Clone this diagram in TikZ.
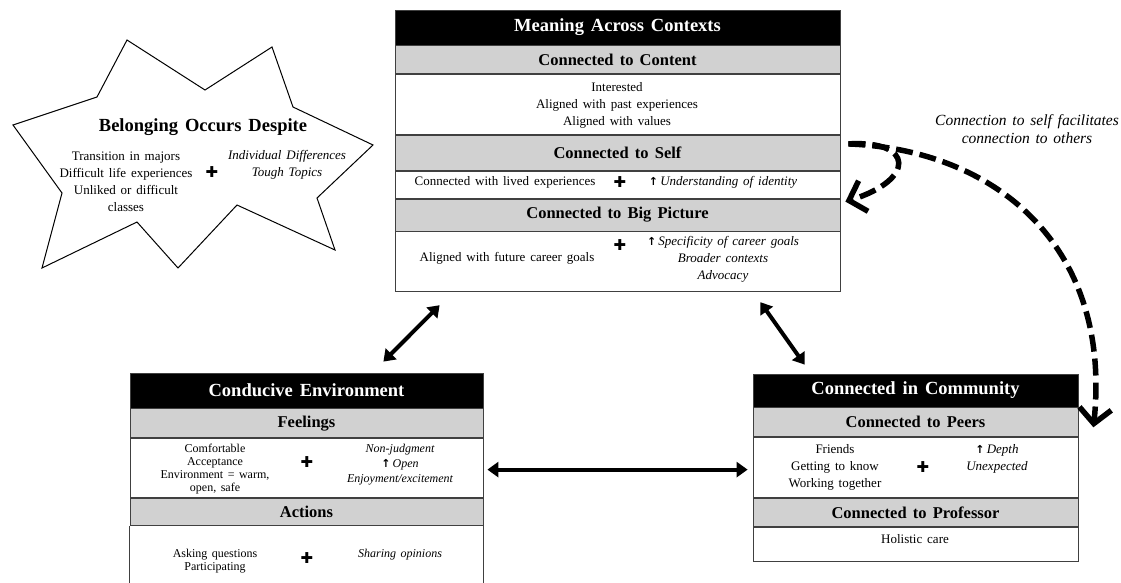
\documentclass[tikz,border=0pt]{standalone}
\usepackage{fontspec}
\setmainfont{Liberation Serif}[WordSpace=1.5]
\newfontfamily\symfont{DejaVu Sans}
\usetikzlibrary{positioning,arrows.meta}
\def\fs#1#2{\fontsize{#1}{#2}\selectfont}
\def\plus{{\symfont\fs{15}{15}✚}}
\def\up{{\symfont\bfseries\fs{11}{11}↑}}
\tikzset{
  band/.style={draw=black!75, line width=0.8pt, minimum width=#1, inner sep=0pt},
  hdr/.style={band=#1, fill=black, text=white, font=\bfseries\fs{18.5}{20}},
  sub/.style={band=#1, fill=black!18, font=\bfseries\fs{16.5}{18}},
  body/.style={band=#1, fill=white},
  txt/.style={align=center, inner sep=0pt, font=\fs{13}{17}},
  itx/.style={txt, font=\itshape\fs{13}{17}},
  link/.style={{Triangle[length=11pt,width=15pt]}-{Triangle[length=11pt,width=15pt]}, line width=4pt},
  hint/.style={-{Straight Barb[length=15pt,width=32pt,line width=5.5pt]}, line width=5.5pt, dash pattern=on 17pt off 7pt}
}

\begin{document}
\begin{tikzpicture}[x=1pt, y=-1pt]
\fill[white] (0,0) rectangle (1121,582);
\useasboundingbox (0,0) rectangle (1121,582);

% star
\draw[line width=1pt, fill=white] (127,40) -- (205,90) -- (272,47) -- (293,107) -- (373,145) -- (317,198) -- (335,250)
  -- (237,205) -- (178,268) -- (137,222) -- (42,268) -- (62,193) -- (13,125) -- (97,97) -- cycle;
\node[font=\bfseries\fs{18.5}{20}] (despite) at (203,127) {Belonging Occurs Despite};
\node[txt] (hard) at (126,181.5) {Transition in majors\\Difficult life experiences\\Unliked or difficult\\classes};
\node[txt] (p3) at (212,172) {\plus};
\node[itx] (diff) at (287,164.5) {Individual Differences\\Tough Topics};

% meaning across contexts
\node[hdr=445, minimum height=35] (mac) at (617.5,27.5) {Meaning Across Contexts};
\node[sub=445, minimum height=28, below=0pt of mac] (content) {Connected to Content};
\node[body=445, minimum height=60, below=0pt of content] (contentbody) {};
\node[sub=445, minimum height=35, below=0pt of contentbody] (self) {Connected to Self};
\node[body=445, minimum height=27, below=0pt of self] (selfbody) {};
\node[sub=445, minimum height=32, below=0pt of selfbody] (big) {Connected to Big Picture};
\node[body=445, minimum height=60, below=0pt of big] (bigbody) {};
\node[txt] (interest) at (617,105) {Interested\\Aligned with past experiences\\Aligned with values};
\node[txt] (lived) at (505,182) {Connected with lived experiences};
\node[txt] (p1) at (620,182) {\plus};
\node[itx] (ident) at (723,182) {\up\,Understanding of identity};
\node[txt] (career) at (507,258) {Aligned with future career goals};
\node[txt] (p2) at (620,245) {\plus};
\node[itx] (goals) at (723,259) {\up\,Specificity of career goals\\Broader contexts\\Advocacy};

% conducive environment
\node[hdr=353, minimum height=35] (env) at (306.5,390.5) {Conducive Environment};
\node[sub=353, minimum height=29, below=0pt of env] (feel) {Feelings};
\node[body=353, minimum height=59, below=0pt of feel] (feelbody) {};
\node[sub=353, minimum height=27, below=0pt of feelbody] (act) {Actions};
\node[band=353, draw=none, fill=white, minimum height=59, below=0pt of act] (actbody) {};
\draw[black!75, line width=0.8pt] (actbody.north west) -- (actbody.south west)
  (actbody.north east) -- (actbody.south east);
\node[txt, font=\fs{12}{12.7}] (comfort) at (215,469) {Comfortable\\Acceptance\\Environment = warm,\\open, safe};
\node[txt] (p4) at (307,462) {\plus};
\node[itx, font=\itshape\fs{12}{15}] (open) at (400,465) {Non-judgment\\\up\,Open\\Enjoyment/excitement};
\node[txt, font=\fs{12}{12.7}] (ask) at (215,561) {Asking questions\\Participating};
\node[txt] (p5) at (307,558) {\plus};
\node[itx, font=\itshape\fs{12}{15}] (share) at (400,555) {Sharing opinions};

% connected in community
\node[hdr=325, minimum height=33] (comm) at (915.5,390.5) {Connected in Community};
\node[sub=325, minimum height=29, below=0pt of comm] (peers) {Connected to Peers};
\node[body=325, minimum height=60, below=0pt of peers] (peersbody) {};
\node[sub=325, minimum height=28, below=0pt of peersbody] (prof) {Connected to Professor};
\node[body=325, minimum height=34, below=0pt of prof] (profbody) {};
\node[txt] (friends) at (835,467) {Friends\\Getting to know\\Working together};
\node[txt] (p6) at (923,467) {\plus};
\node[itx] (depth) at (997,458.5) {\up\,Depth\\Unexpected};
\node[txt] (care) at (915,539) {Holistic care};

% links
\draw[link] ([shift={(45,13)}]bigbody.south west) -- ([shift={(-100,-11)}]env.north east);
\draw[link] ([shift={(-80,10)}]bigbody.south east) -- ([shift={(52,-9)}]comm.north west);
\draw[link] ([shift={(4,1.5)}]feelbody.east) -- ([shift={(-5,2)}]peersbody.west);

% self -> others
\coordinate (fork) at ([shift={(8,-9)}]self.east);
\draw[hint] (fork) .. controls (1000,150) and (1112,250) .. ([shift={(15,5)}]peers.east);
\draw[hint] (fork) .. controls (915,140) and (915,180) .. ([shift={(5,3)}]big.north east);
\node[itx, font=\itshape\fs{15.5}{18}] (note) at (1027,129) {Connection to self facilitates\\connection to others};
\end{tikzpicture}
\end{document}
